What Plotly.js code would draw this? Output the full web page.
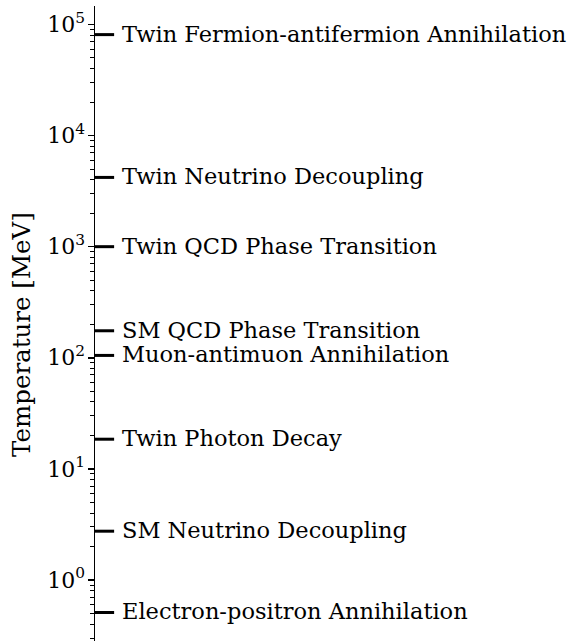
<!DOCTYPE html>
<html>
<head>
<meta charset="utf-8">
<script src="https://cdn.plot.ly/plotly-3.0.1.min.js"></script>
<style>html,body{margin:0;padding:0;background:#fff;}#chart{width:573px;height:641px;}</style>
</head>
<body>
<div id="chart"></div>
<script>
// Event names and temperatures (MeV)
const eventNames = [
  "Twin Fermion-antifermion Annihilation",
  "Twin Neutrino Decoupling",
  "Twin QCD Phase Transition",
  "SM QCD Phase Transition",
  "Muon-antimuon Annihilation",
  "Twin Photon Decay",
  "SM Neutrino Decoupling",
  "Electron-positron Annihilation"
];
const eventTemps = [81000, 4200, 1000, 175, 105, 18.5, 2.75, 0.51];
const tickValues = [1, 10, 100, 1000, 10000, 100000];
const tickLabels = ["10<sup>0</sup>", "10<sup>1</sup>", "10<sup>2</sup>", "10<sup>3</sup>", "10<sup>4</sup>", "10<sup>5</sup>"];
const yTitle = "Temperature [MeV]";

const FONT = "'DejaVu Serif', serif";
const markLen = 0.04;

const traces = eventTemps.map(t => ({
  x: [0, markLen], y: [t, t], mode: "lines", type: "scatter",
  line: {color: "black", width: 3}, hoverinfo: "skip", showlegend: false
}));

const annotations = eventNames.map((n, i) => ({
  x: 0.052, y: Math.log10(eventTemps[i]), xref: "x", yref: "y",
  text: n, showarrow: false, xanchor: "left", yanchor: "middle",
  font: {family: FONT, size: 22.5, color: "black"}, yshift: 1
}));
annotations.push({
  x: -0.1527, y: 0.482, xref: "paper", yref: "paper",
  text: yTitle, showarrow: false, textangle: -90,
  xanchor: "center", yanchor: "middle",
  font: {family: FONT, size: 24.5, color: "black"}
});

const layout = {
  width: 573, height: 641,
  margin: {l: 95, r: 0, t: 6, b: 0},
  paper_bgcolor: "white", plot_bgcolor: "white",
  showlegend: false,
  xaxis: {range: [0, 1], visible: false, fixedrange: true},
  yaxis: {
    type: "log", range: [-0.549, 5.166],
    showgrid: false, zeroline: false,
    showline: true, linecolor: "black", linewidth: 1.5,
    ticks: "outside", ticklen: 6, tickwidth: 1.5, tickcolor: "black",
    tickvals: tickValues, ticktext: tickLabels,
    ticklabelstandoff: -2,
    tickfont: {family: FONT, size: 22, color: "black"},
    minor: {ticks: "outside", dtick: "D1", ticklen: 3.5, tickwidth: 1, tickcolor: "black", showgrid: false}
  },
  annotations: annotations
};

Plotly.newPlot("chart", traces, layout, {staticPlot: true, displayModeBar: false});
</script>
</body>
</html>
